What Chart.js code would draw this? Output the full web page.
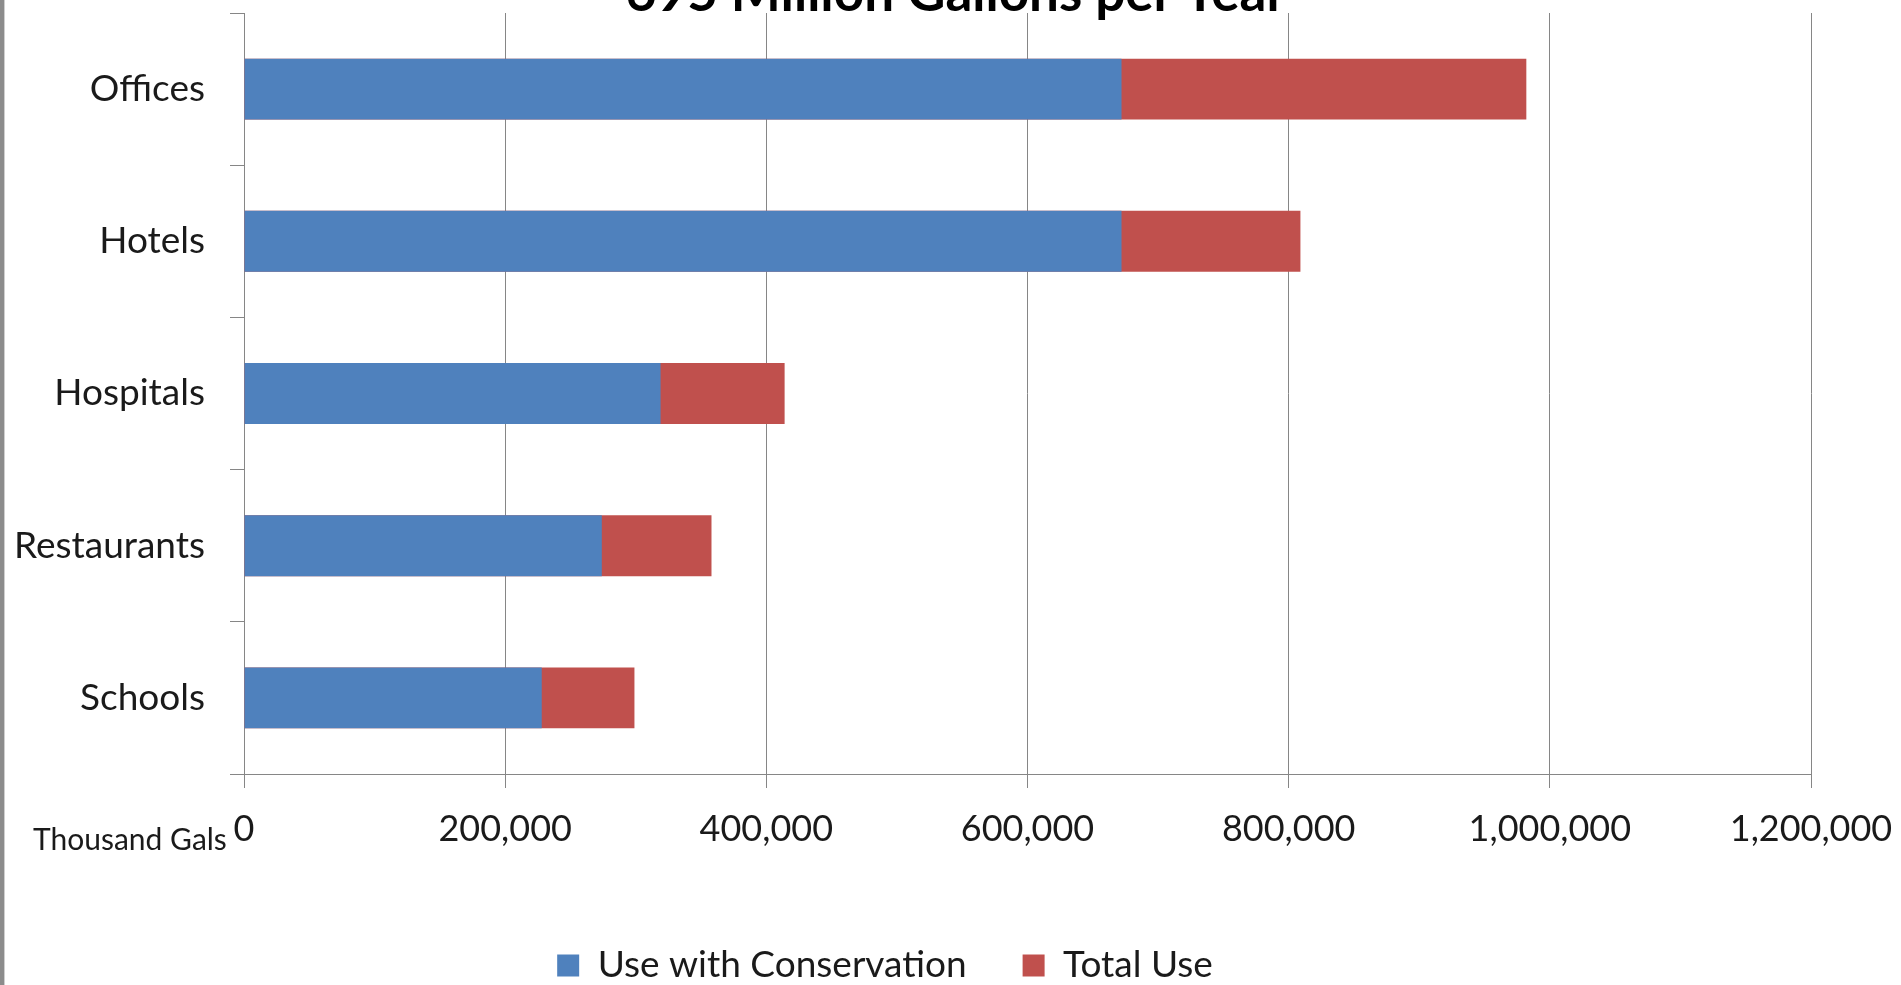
<!DOCTYPE html>
<html>
<head>
<meta charset="utf-8">
<script src="https://cdn.jsdelivr.net/npm/chart.js@4"></script>
<style>
  html, body { margin: 0; padding: 0; background: #fff; overflow: hidden; }
  #wrap { position: absolute; left: 0; top: 0; width: 1901px; height: 994px; }
  #edge { position: absolute; left: 0; top: 0; width: 4px; height: 985px; background: #8c8c8c; border-right: 1px solid #cfcfcf; }
  #title { position: absolute; left: 956px; top: -36px; transform: translateX(-50%); white-space: nowrap;
           font: bold 53px Lato, sans-serif; line-height: 53px; color: #000; }
  #unit { position: absolute; left: 33px; top: 823px; font: 30px Lato, sans-serif; line-height: 30px; color: #1a1a1a; }
</style>
</head>
<body>
<div id="wrap"><canvas id="chart"></canvas></div>
<div id="edge"></div>
<div id="title">695 Million Gallons per Year</div>
<div id="unit">Thousand Gals</div>
<script>
const categories = ['Offices', 'Hotels', 'Hospitals', 'Restaurants', 'Schools'];
const conservation = [672000, 672000, 319000, 274000, 228000];
const totalUse = [982000, 809000, 414000, 358000, 299000];
const xTicks = [0, 200000, 400000, 600000, 800000, 1000000, 1200000];

const gridColor = '#868686';

new Chart(document.getElementById('chart'), {
  type: 'bar',
  data: {
    labels: categories,
    datasets: [
      {
        label: 'Use with Conservation',
        data: conservation,
        backgroundColor: '#4F81BD',
        barPercentage: 0.4,
        categoryPercentage: 1,
      },
      {
        label: 'Total Use',
        data: totalUse,
        backgroundColor: '#C0504D',
        barPercentage: 0.4,
        categoryPercentage: 1,
      },
    ]
  },
  options: {
    indexAxis: 'y',
    responsive: true,
    maintainAspectRatio: false,
    animation: false,
    layout: {
      // negative left padding only shifts the centred legend row to the left
      padding: { top: 13, right: 90, bottom: 0, left: -41 }
    },
    plugins: {
      tooltip: { enabled: false },
      legend: {
        position: 'bottom',
        labels: {
          font: { family: 'Lato', size: 37 },
          color: '#1a1a1a',
          boxWidth: 22,
          boxHeight: 22,
          padding: 56,
        }
      }
    },
    scales: {
      x: {
        min: 0,
        max: 1200000,
        afterBuildTicks: function (scale) {
          scale.ticks = xTicks.map(v => ({ value: v }));
        },
        afterFit: function (scale) {
          scale.height = 117;
          scale.paddingLeft = 0;
          scale.paddingRight = 0;
        },
        grid: {
          color: gridColor,
          lineWidth: 1,
          tickLength: 14,
        },
        border: { display: true, color: gridColor },
        ticks: {
          padding: 20,
          maxRotation: 0,
          color: '#1a1a1a',
          font: { family: 'Lato', size: 36 },
          callback: function (value) {
            return value.toLocaleString('en-US');
          }
        }
      },
      y: {
        stacked: true,
        afterFit: function (scale) {
          scale.width = 285;
          scale.paddingTop = 0;
          scale.paddingBottom = 0;
        },
        grid: {
          offset: true,
          drawOnChartArea: false,
          drawTicks: true,
          tickLength: 14,
          color: gridColor,
        },
        border: { display: true, color: gridColor },
        ticks: {
          padding: 25,
          color: '#1a1a1a',
          font: { family: 'Lato', size: 37 },
        }
      }
    }
  },
});
</script>
</body>
</html>
